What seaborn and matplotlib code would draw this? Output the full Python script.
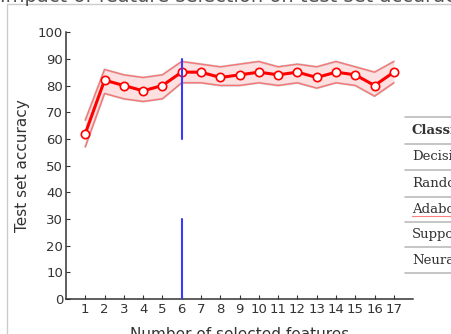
import numpy as np
import pandas as pd
import matplotlib
matplotlib.use("Agg")
import matplotlib.pyplot as plt
from matplotlib.lines import Line2D
import seaborn as sns

# values
n_features = list(range(1, 18))
accuracy = [62, 82, 80, 78, 80, 85, 85, 83, 84, 85, 84, 85, 83, 85, 84, 80, 85]
upper = [67, 86, 84, 83, 84, 89, 88, 87, 88, 89, 87, 88, 87, 89, 87, 85, 89]
lower = [57, 77, 75, 74, 75, 81, 81, 80, 80, 81, 80, 81, 79, 81, 80, 76, 81]
best_k = 6
marker_segments = [(0, 30), (60, 90)]
table_rows = ["Classi", "Decisi", "Rando", "Adabo", "Suppo", "Neural"]

sns.set_style("ticks")
plt.rcParams['font.family'] = ['DejaVu Sans']

df = pd.DataFrame({"k": n_features, "acc": accuracy, "lo": lower, "hi": upper})

fig = plt.figure(figsize=(4.52, 3.34), dpi=100)
ax = fig.add_axes([0.146, 0.1048, 0.768, 0.799])

# confidence band
ax.fill_between(df["k"], df["lo"], df["hi"], color="#ffe0e0", lw=0, zorder=1)
ax.plot(df["k"], df["hi"], color="#b0b0b0", lw=1.6, alpha=0.6, zorder=2)
ax.plot(df["k"], df["lo"], color="#b0b0b0", lw=1.6, alpha=0.6, zorder=2)
ax.plot(df["k"], df["hi"], color="#ff7070", lw=0.9, zorder=2)
ax.plot(df["k"], df["lo"], color="#ff7070", lw=0.9, zorder=2)

sns.lineplot(data=df, x="k", y="acc", ax=ax, color="red", lw=2.2,
             marker="o", markersize=6, markerfacecolor="white",
             markeredgecolor="red", markeredgewidth=1.2, zorder=4)

for y0, y1 in marker_segments:
    ax.plot([best_k, best_k], [y0, y1], color="#3a3aff", lw=1.5, zorder=5)

ax.set_xlim(0, 18)
ax.set_ylim(0, 100)
ax.set_xticks(n_features)
ax.set_yticks(range(0, 101, 10))
ax.tick_params(direction="in", length=3, width=0.8, labelsize=9.5,
               colors="#333333", pad=3)
ax.tick_params(axis="y", pad=2)
sns.despine(ax=ax)
for s in ["left", "bottom"]:
    ax.spines[s].set_color("#333333")
    ax.spines[s].set_linewidth(1.1)
ax.set_xlabel("Number of selected features", fontsize=11, color="#333333", labelpad=8)
ax.set_ylabel("Test set accuracy", fontsize=11, color="#333333", labelpad=6)

# screenshot frame and cut-off title
fig.add_artist(Line2D([7 / 452, 1], [1 - 4 / 334] * 2, color="#cccccc", lw=1))
fig.add_artist(Line2D([7 / 452] * 2, [0, 1 - 4 / 334], color="#cccccc", lw=1))
fig.text(0.0, 1.0 - 1.5 / 334, "Impact of feature selection on test set accuracy",
         fontsize=14, color="#555555", va="baseline", ha="left")

# partial table at right
line_ys = [117, 144, 170, 197, 222, 247, 273]
for y in line_ys:
    fig.add_artist(Line2D([405 / 452, 1], [1 - y / 334] * 2, color="#bbbbbb", lw=1.2))
for i, name in enumerate(table_rows):
    y = (line_ys[i] + line_ys[i + 1]) / 2
    fig.text(412 / 452, 1 - y / 334, name, fontsize=9.5, color="#333333",
             family="DejaVu Serif", va="center", ha="left",
             weight="bold" if i == 0 else "normal")
fig.add_artist(Line2D([412 / 452, 1], [1 - 216 / 334] * 2, color="#ff8080", lw=0.8))

fig.savefig("out.png", dpi=100)
